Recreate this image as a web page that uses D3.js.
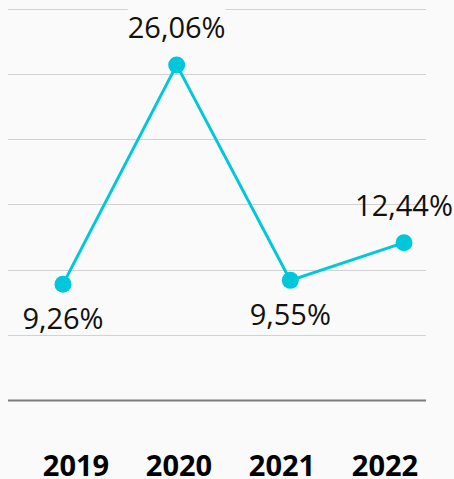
<!DOCTYPE html>
<html>
<head>
<meta charset="utf-8">
<script src="https://cdn.jsdelivr.net/npm/d3@7"></script>
<style>
  html, body { margin: 0; padding: 0; background: #fafafa; }
  svg { display: block; font-family: "Open Sans", "Noto Sans", sans-serif; }
</style>
</head>
<body>
<svg id="chart" width="454" height="479"></svg>
<script>
const years = ["2019", "2020", "2021", "2022"];
const rates = [9.26, 26.06, 9.55, 12.44];
const gridSteps = [0, 1, 2, 3, 4, 5, 6];

const width = 454;
const height = 479;
const bg = "#fafafa";
const lineColor = "#00c8da";

const svg = d3.select("#chart");

svg.append("rect")
  .attr("width", width)
  .attr("height", height)
  .attr("fill", bg);

const x =
  d3.scalePoint()
    .domain(years)
    .range([63, 404]);

const xLabel =
  d3.scalePoint()
    .domain(years)
    .range([76, 385]);

const y =
  d3.scaleLinear()
    .domain([0, 30])
    .range([405, 13.5]);

const gridY =
  d3.scaleLinear()
    .domain([0, 6])
    .range([400, 8.5]);

// grid lines
svg.append("g")
  .selectAll("line")
  .data(gridSteps)
  .enter()
  .append("line")
  .attr("x1", 8)
  .attr("x2", 426)
  .attr("y1", d => Math.round(gridY(d)) + 0.5)
  .attr("y2", d => Math.round(gridY(d)) + 0.5)
  .attr("stroke", d => d === 0 ? "#7a7a7a" : "#d2d2d2")
  .attr("stroke-width", d => d === 0 ? 2 : 1.2);

const points = years.map((yr, i) => ({ year: yr, value: rates[i], i }));

// value labels: above when the value rises, below otherwise
function isAbove(d) {
  if (d.i === 0) return rates[0] > rates[1];
  return d.value >= rates[d.i - 1];
}

const fmt = v => v.toFixed(2).replace(".", ",") + "%";

const labels =
  svg.append("g")
    .selectAll("g")
    .data(points)
    .enter()
    .append("g");

labels.each(function (d) {
  const g = d3.select(this);
  const ty = isAbove(d) ? y(d.value) - 27 : y(d.value) + 45;
  const t = g.append("text")
    .attr("x", x(d.year))
    .attr("y", ty)
    .attr("text-anchor", "middle")
    .attr("font-size", 29)
    .attr("fill", "#111")
    .text(fmt(d.value));
  // only labels sitting on the outer side of a turning point get a halo
  const peak = d.i > 0 && d.i < rates.length - 1;
  if (peak) {
    const b = t.node().getBBox();
    g.insert("rect", "text")
      .attr("x", b.x)
      .attr("y", b.y)
      .attr("width", b.width)
      .attr("height", b.height)
      .attr("fill", bg);
  }
});

// line
svg.append("path")
  .datum(points)
  .attr("fill", "none")
  .attr("stroke", lineColor)
  .attr("stroke-width", 3)
  .attr(
    "d",
    d3.line()
      .x(d => x(d.year))
      .y(d => y(d.value))
  );

svg.append("g")
  .selectAll("circle")
  .data(points)
  .enter()
  .append("circle")
  .attr("cx", d => x(d.year))
  .attr("cy", d => y(d.value))
  .attr("r", 8.5)
  .attr("fill", lineColor);

// year labels
svg.append("g")
  .selectAll("text")
  .data(years)
  .enter()
  .append("text")
  .attr("x", d => xLabel(d))
  .attr("y", 476)
  .attr("text-anchor", "middle")
  .attr("font-size", 29)
  .attr("font-weight", "bold")
  .attr("fill", "#000")
  .text(d => d);
</script>
</body>
</html>
